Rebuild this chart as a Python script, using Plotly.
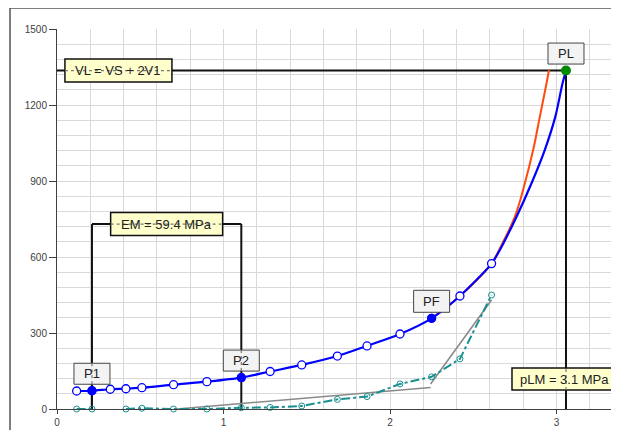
import plotly.graph_objects as go

# ---------------- data ----------------
x_meas = [0.118, 0.21, 0.32, 0.414, 0.51, 0.70, 0.90, 1.107, 1.28, 1.47,
          1.684, 1.862, 2.06, 2.25, 2.42, 2.61]
p_meas = [71, 72, 78, 80, 84, 96, 108, 124, 148, 174,
          209, 249, 296, 358, 446, 574]
creep = [0, 0, None, 0, 3, 0, 0, 5, 6, 12,
         38, 49, 99, 127, 198, 450]

x_fit = [2.61, 2.66, 2.76, 2.85, 2.93, 2.993, 3.036, 3.057]
p_fit = [574, 628, 759, 891, 1023, 1154, 1285, 1336]

x_orange = [2.25, 2.42, 2.61, 2.655, 2.75, 2.81, 2.86, 2.90, 2.94, 2.955]
p_orange = [358, 446, 574, 628, 759, 891, 1023, 1154, 1285, 1338]

x_gray = [0.72, 2.244, None, 2.244, 2.61]
p_gray = [0, 85, None, 99, 430]

pts_names = ["P1", "P2", "PF"]
pts_x = [0.21, 1.107, 2.25]
pts_p = [72, 124, 358]

PL_x, PL_p = 3.057, 1336
EM_level = 730
pLM_label_y = 118

VL_text = "VL = VS + 2V1"
EM_text = "EM = 59.4 MPa"
pLM_text = "pLM = 3.1 MPa"

x_ticks = [0, 1, 2, 3]
y_ticks = [0, 300, 600, 900, 1200, 1500]

# ---------------- figure ----------------
FONT = "Liberation Sans, Arial, sans-serif"
BLUE = "#0000FF"
TEAL = "#1A9090"

fig = go.Figure()

fig.add_trace(go.Scatter(x=x_gray, y=p_gray, mode="lines",
                         line=dict(color="#8A8A8A", width=1.6),
                         hoverinfo="skip", showlegend=False))
fig.add_trace(go.Scatter(x=x_meas, y=creep, mode="lines+markers",
                         line=dict(color=TEAL, width=2, dash="dashdot"),
                         marker=dict(symbol="circle-open", size=6,
                                     color=TEAL, line=dict(width=1)),
                         cliponaxis=False, showlegend=False))
fig.add_trace(go.Scatter(x=x_orange, y=p_orange, mode="lines",
                         line=dict(color="#FF4A10", width=2, shape="spline"),
                         showlegend=False))
fig.add_trace(go.Scatter(x=x_meas + x_fit[1:], y=p_meas + p_fit[1:],
                         mode="lines",
                         line=dict(color=BLUE, width=2.2, shape="spline",
                                   smoothing=0.8),
                         showlegend=False))
fig.add_trace(go.Scatter(x=x_meas, y=p_meas, mode="markers",
                         marker=dict(symbol="circle", size=8, color="white",
                                     line=dict(color=BLUE, width=1.3)),
                         showlegend=False))
fig.add_trace(go.Scatter(x=pts_x, y=pts_p, mode="markers",
                         marker=dict(symbol="circle", size=9, color=BLUE),
                         showlegend=False))
fig.add_trace(go.Scatter(x=[PL_x], y=[PL_p], mode="markers",
                         marker=dict(symbol="circle", size=10, color="#008A00"),
                         cliponaxis=False, showlegend=False))

shapes = []
# solid construction lines
solid = dict(color="#111111", width=2)
shapes.append(dict(type="line", xref="x", yref="y", x0=0, x1=PL_x,
                   y0=PL_p, y1=PL_p, line=solid, layer="between"))
shapes.append(dict(type="line", xref="x", yref="y", x0=PL_x, x1=PL_x,
                   y0=0, y1=PL_p, line=solid, layer="between"))
shapes.append(dict(type="line", xref="x", yref="y", x0=pts_x[0], x1=pts_x[1],
                   y0=EM_level, y1=EM_level, line=solid, layer="between"))
for i in (0, 1):
    shapes.append(dict(type="line", xref="x", yref="y", x0=pts_x[i], x1=pts_x[i],
                       y0=0, y1=EM_level, line=solid, layer="between"))

annotations = []


def box(xc, yc, w, h, dy, text, fill, border, bw, through=None, dx0=None):
    x0 = -w / 2 if dx0 is None else dx0
    shapes.append(dict(type="rect", xref="x", yref="y",
                       xsizemode="pixel", ysizemode="pixel",
                       xanchor=xc, yanchor=yc,
                       x0=x0, x1=x0 + w, y0=dy - h / 2, y1=dy + h / 2,
                       fillcolor=fill, line=dict(color=border, width=bw),
                       layer="above"))
    dot = dict(color="#777777", width=1.2, dash="dot")
    if through == "h":
        shapes.append(dict(type="line", xref="x", yref="y",
                           xsizemode="pixel", ysizemode="pixel",
                           xanchor=xc, yanchor=yc, x0=x0, x1=x0 + w,
                           y0=dy, y1=dy, line=dot, layer="above"))
    elif through == "v":
        shapes.append(dict(type="line", xref="x", yref="y",
                           xsizemode="pixel", ysizemode="pixel",
                           xanchor=xc, yanchor=yc, x0=0, x1=0,
                           y0=dy - h / 2, y1=dy + h / 2, line=dot,
                           layer="above"))
    annotations.append(dict(x=xc, y=yc, xref="x", yref="y", text=text,
                            showarrow=False, yshift=dy,
                            xshift=(x0 + w / 2),
                            font=dict(family=FONT, size=13, color="#222222")))


YEL = "#FFFFCC"
LBL = "#F3F3F3"
box(0.369, PL_p, 107, 23, 0, VL_text, YEL, "#111111", 1.5, through="h")
box((pts_x[0] + pts_x[1]) / 2, EM_level, 112, 23, 0, EM_text, YEL, "#111111",
    1.5, through="h")
box(PL_x, pLM_label_y, 106, 22, 0, pLM_text, YEL, "#111111", 1.5,
    through="v", dx0=-54)
box(pts_x[0], pts_p[0], 36, 21, 17, pts_names[0], LBL, "#444444", 1,
    through="v")
box(pts_x[1], pts_p[1], 36, 21, 17, pts_names[1], LBL, "#444444", 1,
    through="v")
box(pts_x[2], pts_p[2], 36, 22, 17, pts_names[2], LBL, "#444444", 1)
box(PL_x, PL_p, 36, 21, 17, "PL", LBL, "#444444", 1)

# outer chart frame
shapes.append(dict(type="rect", xref="paper", yref="paper",
                   x0=-0.0836, x1=1.05, y0=-0.1, y1=1.0553,
                   line=dict(color="#555555", width=1.5),
                   fillcolor="rgba(0,0,0,0)", layer="below"))

# the page places the figure 8 px from the window's top-left corner
fig.update_layout(
    width=619, height=430,
    margin=dict(l=49, r=8, t=21, b=29, autoexpand=False),
    paper_bgcolor="white", plot_bgcolor="white",
    shapes=shapes, annotations=annotations,
    font=dict(family=FONT, size=10, color="#404040"),
    showlegend=False,
)
fig.update_xaxes(range=[0, 3.3754], tickvals=x_ticks,
                 showgrid=True, gridcolor="#D9D9D9", gridwidth=1,
                 minor=dict(dtick=0.2, showgrid=True, gridcolor="#D9D9D9",
                            gridwidth=1, ticks=""),
                 showline=True, linecolor="#404040", linewidth=1,
                 ticks="outside", ticklen=4, tickcolor="#404040",
                 zeroline=False, tickfont=dict(size=10, color="#404040"),
                 automargin=False)
fig.update_yaxes(range=[0, 1500], tickvals=y_ticks,
                 showgrid=True, gridcolor="#D9D9D9", gridwidth=1,
                 minor=dict(dtick=60, showgrid=True, gridcolor="#D9D9D9",
                            gridwidth=1, ticks=""),
                 showline=True, linecolor="#404040", linewidth=1,
                 ticks="outside", ticklen=7, tickcolor="#404040",
                 zeroline=False, tickfont=dict(size=10, color="#404040"),
                 automargin=False)

fig.write_html("out.html")
